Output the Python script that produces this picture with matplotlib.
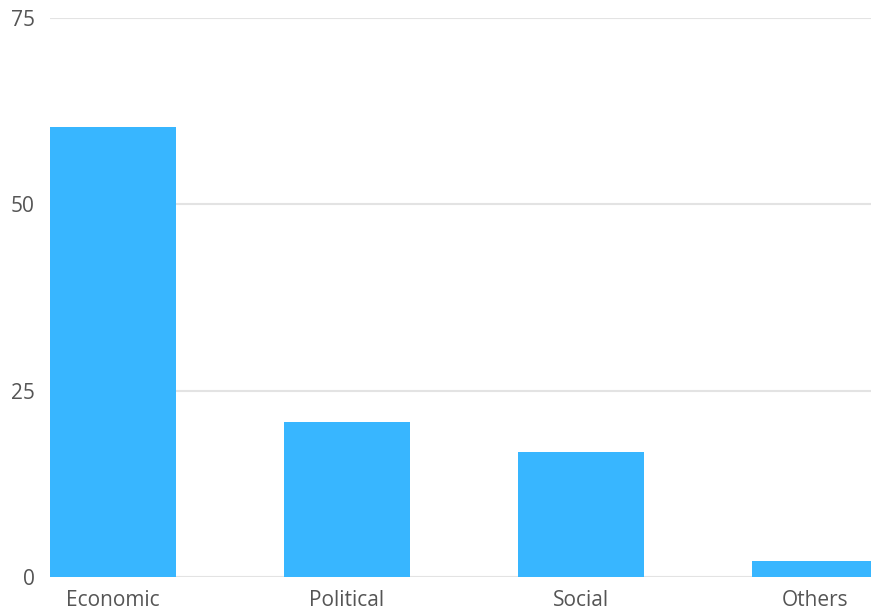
import matplotlib.pyplot as plt

categories = ["Economic", "Political", "Social", "Others"]
values = [60.4, 20.8, 16.8, 2.1]
y_ticks = [0, 25, 50, 75]

plt.rcParams["font.family"] = ["Open Sans", "DejaVu Sans"]

fig = plt.figure(figsize=(8.71, 6.14), dpi=100)
ax = fig.add_axes([50 / 871, 37 / 614, 828 / 871, 559 / 614])

ax.bar(range(len(categories)), values, width=0.54, color="#38b6ff", zorder=2)

ax.set_xlim(-0.27, 3.27)
ax.set_ylim(0, 75)
ax.set_yticks(y_ticks)
ax.set_xticks(range(len(categories)))
ax.set_xticklabels(categories)

ax.grid(axis="y", color="#e3e3e3", linewidth=1.5, zorder=0)
for s in ax.spines.values():
    s.set_visible(False)
ax.tick_params(axis="both", length=0, labelsize=15, labelcolor="#555555")
ax.tick_params(axis="y", pad=11)
ax.tick_params(axis="x", pad=9)
for lbl in ax.get_yticklabels():
    lbl.set_clip_on(False)

fig.savefig("out.png", dpi=100)
